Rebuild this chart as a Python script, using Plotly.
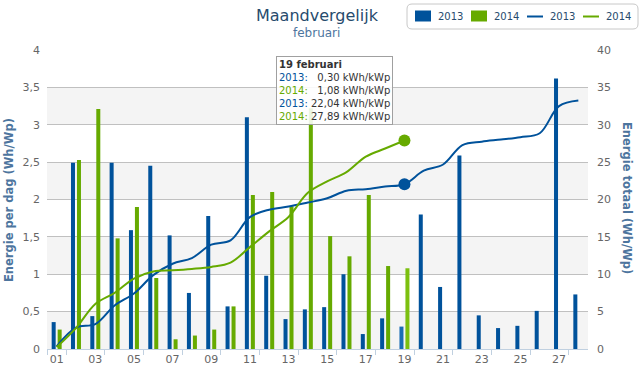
import plotly.graph_objects as go

# ---- data ----
days = list(range(1, 29))
tick_days = list(range(1, 28, 2))
tick_labels = ["%02d" % d for d in tick_days]

daily_2013 = [0.36, 2.49, 0.44, 2.49, 1.59, 2.45, 1.52, 0.75, 1.78, 0.57,
              3.10, 0.98, 0.40, 0.53, 0.56, 1.00, 0.20, 0.41, 0.30, 1.80,
              0.83, 2.59, 0.45, 0.28, 0.31, 0.51, 3.62, 0.73]
daily_2014 = [0.26, 2.53, 3.21, 1.48, 1.90, 0.95, 0.13, 0.18, 0.26, 0.57,
              2.06, 2.10, 1.91, 3.22, 1.51, 1.24, 2.06, 1.11, 1.08]
total_2013 = [0.36, 2.87, 3.32, 5.82, 7.42, 9.88, 11.41, 12.17, 13.96, 14.54,
              17.65, 18.64, 19.05, 19.59, 20.16, 21.17, 21.38, 21.74, 22.04, 23.85,
              24.68, 27.28, 27.74, 28.02, 28.34, 28.86, 32.49, 33.23]
total_2014 = [0.26, 2.80, 6.02, 7.51, 9.42, 10.38, 10.52, 10.71, 10.98, 11.56,
              13.63, 15.74, 17.66, 20.89, 22.41, 23.66, 25.73, 26.82, 27.89]
series_names = ["2013", "2014"]
hover_day = 19

# ---- style ----
BLUE = "#00529b"
GREEN = "#66aa00"
BLUE_H = "#1a6db5"
GREEN_H = "#7cc00f"
FONT = "DejaVu Sans"
W, H = 640, 368
L, R, T, B = 47, 52, 50, 19
PW, PH = W - L - R, H - T - B


def px(x):
    return (x - L) / PW


def py(y):
    return (H - B - y) / PH


hi = hover_day - 1
fig = go.Figure()

fig.add_trace(go.Bar(
    x=days, y=daily_2013, name=series_names[0],
    marker=dict(color=[BLUE_H if i == hi else BLUE for i in range(len(daily_2013))],
                line=dict(width=0)),
    showlegend=False))
fig.add_trace(go.Bar(
    x=days[:len(daily_2014)], y=daily_2014, name=series_names[1],
    marker=dict(color=[GREEN_H if i == hi else GREEN for i in range(len(daily_2014))],
                line=dict(width=0)),
    showlegend=False))
fig.add_trace(go.Scatter(
    x=days, y=total_2013, yaxis="y2", mode="lines", name=series_names[0],
    line=dict(color=BLUE, width=2, shape="spline", smoothing=1), showlegend=False))
fig.add_trace(go.Scatter(
    x=days[:len(total_2014)], y=total_2014, yaxis="y2", mode="lines", name=series_names[1],
    line=dict(color=GREEN, width=2, shape="spline", smoothing=1), showlegend=False))
fig.add_trace(go.Scatter(
    x=[days[hi]], y=[total_2013[hi]], yaxis="y2", mode="markers",
    marker=dict(color=BLUE, size=12, line=dict(width=0)), showlegend=False))
fig.add_trace(go.Scatter(
    x=[days[hi]], y=[total_2014[hi]], yaxis="y2", mode="markers",
    marker=dict(color=GREEN, size=12, line=dict(width=0)), showlegend=False))

shapes = []
for b0 in [0, 1, 2, 3]:
    shapes.append(dict(type="rect", xref="paper", yref="y", x0=0, x1=1, y0=b0, y1=b0 + 0.5,
                       fillcolor="#f4f4f4", line=dict(width=0), layer="below"))

# custom legend
lx0, ly0, lx1, ly1, rr = 407, 4, 638, 29, 5
x0p, x1p, y0p, y1p = px(lx0), px(lx1), py(ly0), py(ly1)
rxp, ryp = rr / PW, rr / PH
path = (f"M{x0p + rxp},{y0p} L{x1p - rxp},{y0p} Q{x1p},{y0p} {x1p},{y0p - ryp} "
        f"L{x1p},{y1p + ryp} Q{x1p},{y1p} {x1p - rxp},{y1p} L{x0p + rxp},{y1p} "
        f"Q{x0p},{y1p} {x0p},{y1p + ryp} L{x0p},{y0p - ryp} Q{x0p},{y0p} {x0p + rxp},{y0p} Z")
shapes.append(dict(type="path", xref="paper", yref="paper", path=path,
                   fillcolor="white", line=dict(color="#c8c8c8", width=1), layer="above"))
annotations = []
leg_items = [("bar", BLUE, 415, series_names[0]), ("bar", GREEN, 471, series_names[1]),
             ("line", BLUE, 527, series_names[0]), ("line", GREEN, 583, series_names[1])]
for kind, col, sx, txt in leg_items:
    if kind == "bar":
        shapes.append(dict(type="rect", xref="paper", yref="paper",
                           x0=px(sx), x1=px(sx + 16), y0=py(10.5), y1=py(21.5),
                           fillcolor=col, line=dict(width=0), layer="above"))
    else:
        shapes.append(dict(type="line", xref="paper", yref="paper",
                           x0=px(sx), x1=px(sx + 16), y0=py(16.5), y1=py(16.5),
                           line=dict(color=col, width=2), layer="above"))
    annotations.append(dict(xref="paper", yref="paper", x=px(sx + 21), y=py(16.5),
                            text=txt, showarrow=False, xanchor="left", yanchor="middle",
                            font=dict(family=FONT, size=10, color="#274b6d")))

# title / subtitle
annotations.append(dict(xref="paper", yref="paper", x=px(317), y=py(15.5), text="Maandvergelijk",
                        showarrow=False, xanchor="center", yanchor="middle",
                        font=dict(family=FONT, size=16, color="#274b6d")))
annotations.append(dict(xref="paper", yref="paper", x=px(316), y=py(33), text="februari",
                        showarrow=False, xanchor="center", yanchor="middle",
                        font=dict(family=FONT, size=12, color="#4d759e")))
# axis titles
annotations.append(dict(xref="paper", yref="paper", x=px(9), y=py(200),
                        text="<b>Energie per dag (Wh/Wp)</b>", textangle=-90,
                        showarrow=False, xanchor="center", yanchor="middle",
                        font=dict(family=FONT, size=11.5, color="#4d759e")))
annotations.append(dict(xref="paper", yref="paper", x=px(627), y=py(198),
                        text="<b>Energie totaal (Wh/Wp)</b>", textangle=90,
                        showarrow=False, xanchor="center", yanchor="middle",
                        font=dict(family=FONT, size=11.5, color="#4d759e")))


def fmt(v):
    return ("%.2f" % v).replace(".", ",")


def lab(name, col):
    return f"<span style='color:{col}'>{name}:</span>"


fs = "\u2007"
tip = (f"<b>{hover_day} februari</b><br>"
       f"{lab(series_names[0], BLUE)} {fs}{fmt(daily_2013[hi])} kWh/kWp<br>"
       f"{lab(series_names[1], GREEN)} {fs}{fmt(daily_2014[hi])} kWh/kWp<br>"
       f"{lab(series_names[0], BLUE)} {fmt(total_2013[hi])} kWh/kWp<br>"
       f"{lab(series_names[1], GREEN)} {fmt(total_2014[hi])} kWh/kWp")
annotations.append(dict(xref="paper", yref="paper", x=px(276), y=py(56), text=tip,
                        showarrow=False, xanchor="left", yanchor="top", align="left",
                        bgcolor="rgba(255,255,255,0.88)", bordercolor="#a0a0a0",
                        borderwidth=1, borderpad=2,
                        font=dict(family=FONT, size=10, color="#333333")))

fig.update_layout(
    width=W, height=H,
    margin=dict(l=L, r=R, t=T, b=B, pad=0, autoexpand=False),
    paper_bgcolor="white", plot_bgcolor="white",
    separators=",.",
    barmode="group", bargap=0.38, bargroupgap=0.33,
    showlegend=False,
    font=dict(family=FONT, size=11, color="#666666"),
    xaxis=dict(range=[0.5, 28.5], tickmode="array", tickvals=tick_days, ticktext=tick_labels,
               showgrid=False, zeroline=False, showline=True, linecolor="#c0d0e0", linewidth=1,
               ticks="", tickfont=dict(family=FONT, size=11, color="#666666"),
               automargin=False,
               minor=dict(tickmode="array", tickvals=[0.5] + [d + 0.5 for d in tick_days],
                          ticks="outside", ticklen=5, tickcolor="#c0d0e0", tickwidth=1,
                          showgrid=False),
               fixedrange=True),
    yaxis=dict(range=[0, 4], dtick=0.5, tick0=0, showgrid=True, gridcolor="#c0c0c0",
               gridwidth=1, zeroline=False, showline=False, ticks="",
               ticklabelstandoff=6, tickformat=",.1~f", automargin=False,
               tickfont=dict(family=FONT, size=11, color="#666666")),
    yaxis2=dict(range=[0, 40], dtick=5, tick0=0, overlaying="y", side="right",
                showgrid=False, zeroline=False, showline=False, ticks="",
                ticklabelstandoff=8, automargin=False,
                tickfont=dict(family=FONT, size=11, color="#666666")),
    shapes=shapes, annotations=annotations,
)

fig.write_html("out.html", config={"displayModeBar": False},
               post_script="document.body.style.margin='0';")
